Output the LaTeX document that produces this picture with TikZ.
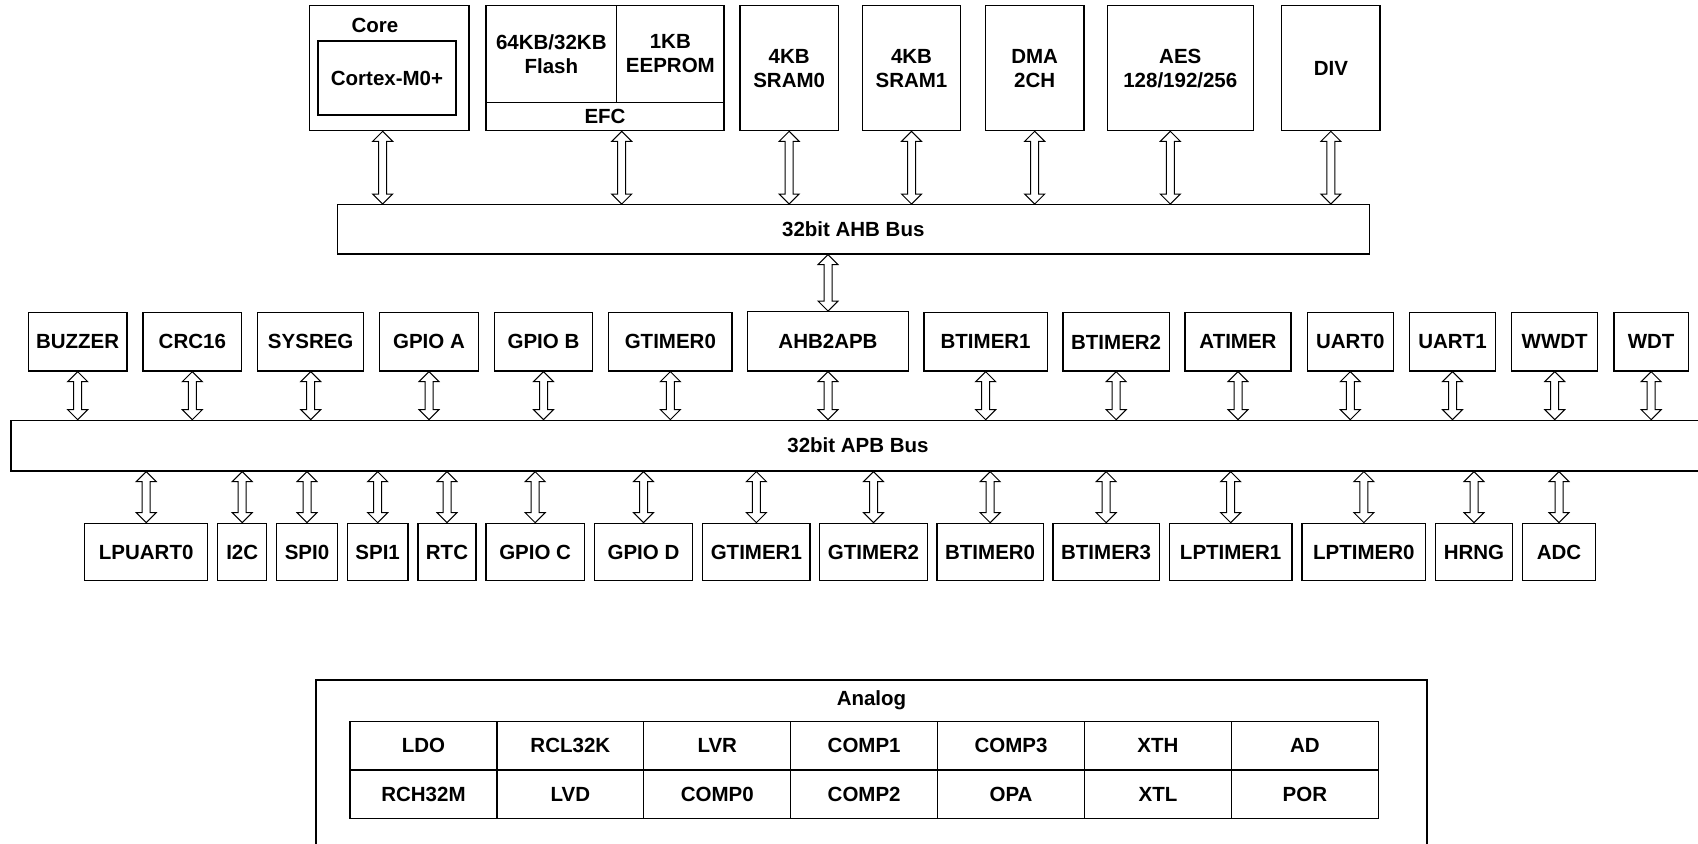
\documentclass[tikz,border=0pt]{standalone}
\usepackage{fontspec}
\setmainfont{Liberation Sans}
\usetikzlibrary{calc}
\tikzset{
  blk/.style={draw, line width=0.65pt, inner sep=0pt, align=center,
    font=\fontsize{10.25pt}{12pt}\selectfont\bfseries},
  barrow/.style={draw, line width=0.5pt, fill=white, line join=miter},
  lbl/.style={inner sep=0pt, font=\fontsize{10.25pt}{12pt}\selectfont\bfseries},
  frame/.style={draw, line width=0.65pt},
}
% #1 name, (#2,#3) top-left corner, (#4,#5) bottom-right corner, #6 text
\newcommand\blk[6]{%
  \pgfmathsetmacro\bw{(#4-#2)*0.5}%
  \pgfmathsetmacro\bh{(#5-#3)*0.5}%
  \node[blk, minimum width=\bw pt, minimum height=\bh pt] (#1) at ({(#2+#4)/2},{(#3+#5)/2}) {#6};}
% #1: point giving the x of the arrow, #2: point giving its top, #3: point giving its bottom
\newcommand\dbv[3]{\path[barrow] let \p0=(#1), \p1=(#2), \p2=(#3) in
  (\x0,\y1) -- ++(-5pt,-5pt) -- ++(3pt,0pt) -- (\x0-2pt,\y2+5pt) -- ++(-3pt,0pt)
  -- (\x0,\y2) -- ++(5pt,5pt) -- ++(-3pt,0pt) -- (\x0+2pt,\y1-5pt) -- ++(3pt,0pt) -- cycle;}
\begin{document}
\begin{tikzpicture}[x=0.5pt, y=-0.5pt]
\useasboundingbox (0,0) rectangle (1698,844);
\fill[white] (0,0) rectangle (1698,844);
% ---------- AHB masters / slaves ----------
\blk{core}{309.3}{5.7}{469}{130.7}{}
\node[lbl] (corelbl) at (375,25) {Core};
\blk{cortex}{318}{41}{456}{115}{Cortex-M0+}
\blk{flashblk}{486}{5.7}{724}{130.7}{}
\blk{flash}{486}{5.7}{616.7}{102.3}{64KB/32KB\\Flash}
\blk{eeprom}{616.7}{5.7}{724}{102.3}{1KB\\EEPROM}
\blk{efc}{486}{102.3}{724}{130.7}{EFC}
\blk{sram0}{740}{5.7}{838.3}{130.7}{4KB\\SRAM0}
\blk{sram1}{862.3}{5.7}{960.7}{130.7}{4KB\\SRAM1}
\blk{dma}{985.3}{5.7}{1084}{130.7}{DMA\\2CH}
\blk{aes}{1107.3}{5.7}{1253.3}{130.7}{AES\\128/192/256}
\blk{div}{1281.7}{5.7}{1380}{130.7}{DIV}
\blk{ahb}{337.3}{204.7}{1369.3}{254}{32bit AHB Bus}
% ---------- APB upper row ----------
\blk{buzzer}{28.3}{312.7}{127}{371}{BUZZER}
\blk{crc}{143}{312.7}{241.7}{371}{CRC16}
\blk{sysreg}{257.7}{312.7}{363.7}{371}{SYSREG}
\blk{gpioa}{379.7}{312.7}{478.3}{371}{GPIO A}
\blk{gpiob}{494.3}{312.7}{592.7}{371}{GPIO B}
\blk{gtimer0}{608.7}{312.7}{732}{371}{GTIMER0}
\blk{ahbapb}{747.7}{311.7}{908.3}{371}{AHB2APB}
\blk{btimer1}{924}{312.7}{1047.3}{371}{BTIMER1}
\blk{btimer2}{1063}{312.7}{1169.3}{371}{BTIMER2}
\blk{atimer}{1185}{312.7}{1291}{371}{ATIMER}
\blk{uart0}{1307.3}{312.7}{1393.3}{371}{UART0}
\blk{uart1}{1409.3}{312.7}{1495.7}{371}{UART1}
\blk{wwdt}{1511.7}{312.7}{1597.7}{371}{WWDT}
\blk{wdt}{1614}{312.7}{1688.3}{371}{WDT}
\blk{apb}{11}{420.3}{1705}{471}{32bit APB Bus}
% ---------- APB lower row ----------
\blk{lpuart0}{84.7}{523.3}{207.7}{580.7}{LPUART0}
\blk{i2c}{217.7}{523.3}{266.7}{580.7}{I2C}
\blk{spi0}{276.7}{523.3}{337.3}{580.7}{SPI0}
\blk{spi1}{347.3}{523.3}{408}{580.7}{SPI1}
\blk{rtc}{418}{523.3}{476}{580.7}{RTC}
\blk{gpioc}{486}{523.3}{584.3}{580.7}{GPIO C}
\blk{gpiod}{594.3}{523.3}{692.7}{580.7}{GPIO D}
\blk{gtimer1}{702.7}{523.3}{810}{580.7}{GTIMER1}
\blk{gtimer2}{819.7}{523.3}{927.3}{580.7}{GTIMER2}
\blk{btimer0}{937}{523.3}{1043.3}{580.7}{BTIMER0}
\blk{btimer3}{1053}{523.3}{1159.3}{580.7}{BTIMER3}
\blk{lptimer1}{1169.3}{523.3}{1292}{580.7}{LPTIMER1}
\blk{lptimer0}{1302}{523.3}{1425.7}{580.7}{LPTIMER0}
\blk{hrng}{1435.3}{523.3}{1512.7}{580.7}{HRNG}
\blk{adc}{1522.7}{523.3}{1595.3}{580.7}{ADC}
% ---------- Analog ----------
\draw[frame] (316,850) -- (316,680) -- (1427,680) -- (1427,850);
\node[lbl] (analog) at (871.5,700) {Analog};
\blk{a1}{350}{721.5}{496.9}{770}{LDO}
\blk{a2}{496.9}{721.5}{643.8}{770}{RCL32K}
\blk{a3}{643.8}{721.5}{790.7}{770}{LVR}
\blk{a4}{790.7}{721.5}{937.6}{770}{COMP1}
\blk{a5}{937.6}{721.5}{1084.5}{770}{COMP3}
\blk{a6}{1084.5}{721.5}{1231.4}{770}{XTH}
\blk{a7}{1231.4}{721.5}{1378.3}{770}{AD}
\blk{b1}{350}{770}{496.9}{818.5}{RCH32M}
\blk{b2}{496.9}{770}{643.8}{818.5}{LVD}
\blk{b3}{643.8}{770}{790.7}{818.5}{COMP0}
\blk{b4}{790.7}{770}{937.6}{818.5}{COMP2}
\blk{b5}{937.6}{770}{1084.5}{818.5}{OPA}
\blk{b6}{1084.5}{770}{1231.4}{818.5}{XTL}
\blk{b7}{1231.4}{770}{1378.3}{818.5}{POR}
% ---------- AHB connectors ----------
\dbv{$(core.south)+(-6.5,0)$}{core.south}{ahb.north}
\dbv{$(efc.south)+(16.7,0)$}{efc.south}{ahb.north}
\dbv{sram0.south}{sram0.south}{ahb.north}
\dbv{sram1.south}{sram1.south}{ahb.north}
\dbv{dma.south}{dma.south}{ahb.north}
\dbv{$(aes.south)+(-10,0)$}{aes.south}{ahb.north}
\dbv{div.south}{div.south}{ahb.north}
\dbv{ahbapb.north}{ahb.south}{ahbapb.north}
% ---------- APB upper connectors ----------
\dbv{buzzer.south}{buzzer.south}{apb.north}
\dbv{crc.south}{crc.south}{apb.north}
\dbv{sysreg.south}{sysreg.south}{apb.north}
\dbv{gpioa.south}{gpioa.south}{apb.north}
\dbv{gpiob.south}{gpiob.south}{apb.north}
\dbv{gtimer0.south}{gtimer0.south}{apb.north}
\dbv{ahbapb.south}{ahbapb.south}{apb.north}
\dbv{btimer1.south}{btimer1.south}{apb.north}
\dbv{btimer2.south}{btimer2.south}{apb.north}
\dbv{atimer.south}{atimer.south}{apb.north}
\dbv{uart0.south}{uart0.south}{apb.north}
\dbv{uart1.south}{uart1.south}{apb.north}
\dbv{wwdt.south}{wwdt.south}{apb.north}
\dbv{wdt.south}{wdt.south}{apb.north}
% ---------- APB lower connectors ----------
\dbv{lpuart0.north}{apb.south}{lpuart0.north}
\dbv{i2c.north}{apb.south}{i2c.north}
\dbv{spi0.north}{apb.south}{spi0.north}
\dbv{spi1.north}{apb.south}{spi1.north}
\dbv{rtc.north}{apb.south}{rtc.north}
\dbv{gpioc.north}{apb.south}{gpioc.north}
\dbv{gpiod.north}{apb.south}{gpiod.north}
\dbv{gtimer1.north}{apb.south}{gtimer1.north}
\dbv{gtimer2.north}{apb.south}{gtimer2.north}
\dbv{btimer0.north}{apb.south}{btimer0.north}
\dbv{btimer3.north}{apb.south}{btimer3.north}
\dbv{lptimer1.north}{apb.south}{lptimer1.north}
\dbv{lptimer0.north}{apb.south}{lptimer0.north}
\dbv{hrng.north}{apb.south}{hrng.north}
\dbv{adc.north}{apb.south}{adc.north}
\end{tikzpicture}
\end{document}
